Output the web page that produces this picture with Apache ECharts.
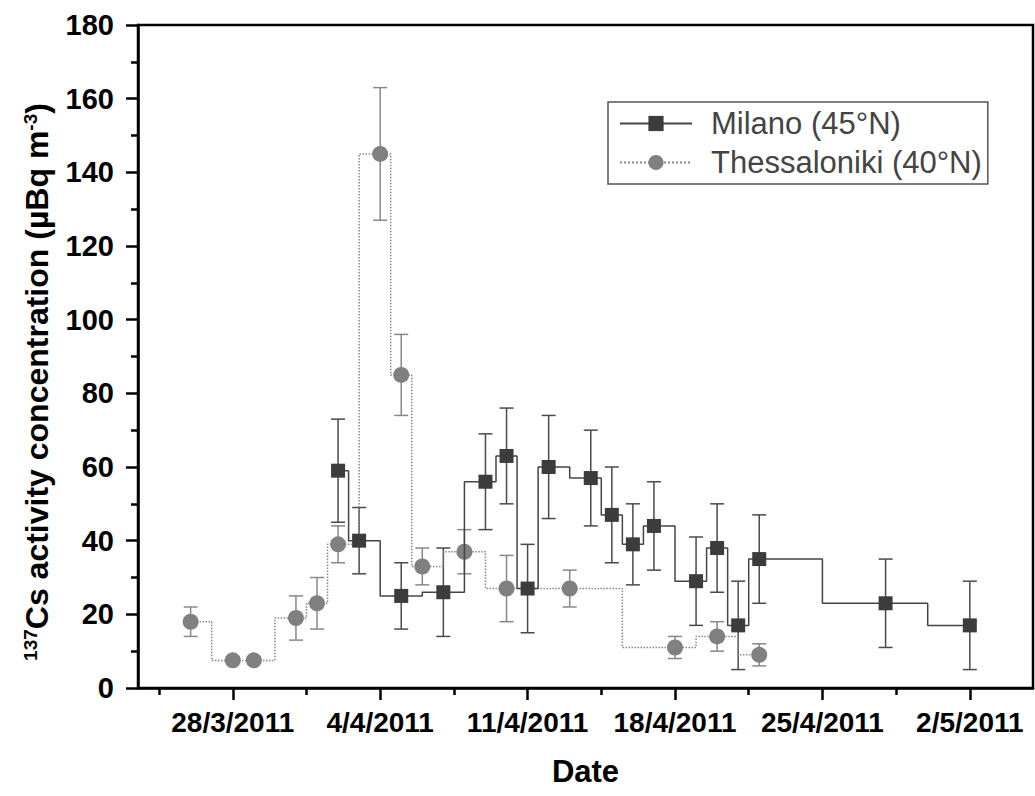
<!DOCTYPE html>
<html>
<head>
<meta charset="utf-8">
<script src="https://cdn.jsdelivr.net/npm/echarts@6/dist/echarts.min.js"></script>
<style>
  html, body { margin: 0; padding: 0; background: #fff; }
  #main { width: 1035px; height: 796px; }
</style>
</head>
<body>
<div id="main"></div>
<script>
// x values are days counted from 28/3/2011
const tickDays = [0, 7, 14, 21, 28, 35]
const tickLabels = ['28/3/2011', '4/4/2011', '11/4/2011', '18/4/2011', '25/4/2011', '2/5/2011']
const minorDays = [-3.5, 3.5, 10.5, 17.5, 24.5, 31.5]

const milanoDays = [5, 6, 8, 10, 12, 13, 14, 15, 17, 18, 19, 20, 22, 23, 24, 25, 31, 35]
const milanoValues = [59, 40, 25, 26, 56, 63, 27, 60, 57, 47, 39, 44, 29, 38, 17, 35, 23, 17]
const milanoErrors = [14, 9, 9, 12, 13, 13, 12, 14, 13, 13, 11, 12, 12, 12, 12, 12, 12, 12]

const thessDays = [-2, 0, 1, 3, 4, 5, 7, 8, 9, 11, 13, 16, 21, 23, 25]
const thessValues = [18, 7.5, 7.5, 19, 23, 39, 145, 85, 33, 37, 27, 27, 11, 14, 9]
const thessErrors = [4, 0, 0, 6, 7, 5, 18, 11, 5, 6, 9, 5, 3, 4, 3]

const FONT = "'Liberation Sans', Arial, Helvetica, sans-serif"

const chart = echarts.init(document.getElementById('main'), null, { renderer: 'svg' })

function pairs(xs, ys) {
  return xs.map((x, i) => [x, ys[i]])
}
function bars(xs, ys, es) {
  return xs.map((x, i) => [x, ys[i] - es[i], ys[i] + es[i]])
}

// error bars drawn as custom marks through the axis scales
function errorBar(color) {
  return function (params, api) {
    const lo = api.coord([api.value(0), api.value(1)])
    const hi = api.coord([api.value(0), api.value(2)])
    const half = 7
    const style = { stroke: color, lineWidth: 1.5 }
    return {
      type: 'group',
      children: [
        { type: 'line', shape: { x1: lo[0], y1: lo[1], x2: hi[0], y2: hi[1] }, style },
        { type: 'line', shape: { x1: lo[0] - half, y1: lo[1], x2: lo[0] + half, y2: lo[1] }, style },
        { type: 'line', shape: { x1: hi[0] - half, y1: hi[1], x2: hi[0] + half, y2: hi[1] }, style },
      ],
    }
  }
}

const axisColor = '#000'

const option = {
  backgroundColor: '#fff',
  animation: false,
  grid: {
    left: 138,
    right: 2,
    top: 25,
    bottom: 108,
    show: true,
    borderColor: axisColor,
    borderWidth: 2.5,
  },
  legend: {
    orient: 'vertical',
    left: 608,
    top: 102,
    data: ['Milano (45°N)', 'Thessaloniki (40°N)'],
    itemWidth: 72,
    itemHeight: 19,
    itemGap: 8,
    padding: [6, 6, 6, 11],
    borderColor: '#555',
    borderWidth: 1.5,
    textStyle: {
      fontFamily: FONT,
      fontSize: 31,
      color: '#444',
      padding: [0, 0, 0, 14],
    },
  },
  xAxis: [
    {
      type: 'value',
      min: -4.5,
      max: 38,
      name: 'Date',
      nameLocation: 'middle',
      nameGap: 68,
      nameTextStyle: { fontFamily: FONT, fontSize: 31, fontWeight: 'bold', color: '#000' },
      axisLine: { show: true, onZero: false, lineStyle: { color: axisColor, width: 2.5 } },
      axisTick: { show: true, customValues: tickDays, length: 12, lineStyle: { color: axisColor, width: 2.5 } },
      axisLabel: {
        customValues: tickDays,
        margin: 20,
        fontFamily: FONT,
        fontSize: 28,
        fontWeight: 'bold',
        color: '#000',
        formatter: function (v) {
          const i = tickDays.indexOf(v)
          return i >= 0 ? tickLabels[i] : ''
        },
      },
      splitLine: { show: false },
    },
    {
      type: 'value',
      min: -4.5,
      max: 38,
      position: 'bottom',
      axisLine: { show: false, onZero: false },
      axisTick: { show: true, customValues: minorDays, length: 7, lineStyle: { color: axisColor, width: 2.5 } },
      axisLabel: { show: false },
      splitLine: { show: false },
    },
  ],
  yAxis: {
    type: 'value',
    min: 0,
    max: 180,
    interval: 20,
    axisLine: { show: true, onZero: false, lineStyle: { color: axisColor, width: 2.5 } },
    axisTick: { show: true, length: 12, lineStyle: { color: axisColor, width: 2.5 } },
    minorTick: { show: true, splitNumber: 2, length: 7, lineStyle: { color: axisColor, width: 2.5 } },
    axisLabel: { margin: 24, fontFamily: FONT, fontSize: 29, fontWeight: 'bold', color: '#000' },
    splitLine: { show: false },
  },
  graphic: [
    {
      type: 'text',
      x: 37,
      y: 382,
      rotation: Math.PI / 2,
      style: {
        text: '{sup|137}Cs activity concentration (µBq m{sup|-3})',
        fontFamily: FONT,
        fontSize: 32,
        fontWeight: 'bold',
        fill: '#000',
        align: 'center',
        verticalAlign: 'middle',
        rich: {
          sup: { fontFamily: FONT, fontSize: 19, fontWeight: 'bold', verticalAlign: 'top', fill: '#000' },
        },
      },
    },
  ],
  series: [
    {
      type: 'custom',
      name: 'Thessaloniki err',
      renderItem: errorBar('#888'),
      data: bars(thessDays, thessValues, thessErrors),
      encode: { x: 0, y: [1, 2] },
      z: 1,
    },
    {
      type: 'custom',
      name: 'Milano err',
      renderItem: errorBar('#4a4a4a'),
      data: bars(milanoDays, milanoValues, milanoErrors),
      encode: { x: 0, y: [1, 2] },
      z: 1,
    },
    {
      name: 'Thessaloniki (40°N)',
      type: 'line',
      step: 'middle',
      data: pairs(thessDays, thessValues),
      symbol: 'circle',
      symbolSize: 16,
      itemStyle: { color: '#808080' },
      lineStyle: { color: '#888', width: 1.5, type: 'dotted' },
      z: 2,
    },
    {
      name: 'Milano (45°N)',
      type: 'line',
      step: 'middle',
      data: pairs(milanoDays, milanoValues),
      symbol: 'rect',
      symbolSize: 14,
      itemStyle: { color: '#3c3c3c' },
      lineStyle: { color: '#444', width: 1.5 },
      z: 3,
    },
  ],
}

chart.setOption(option)
</script>
</body>
</html>
